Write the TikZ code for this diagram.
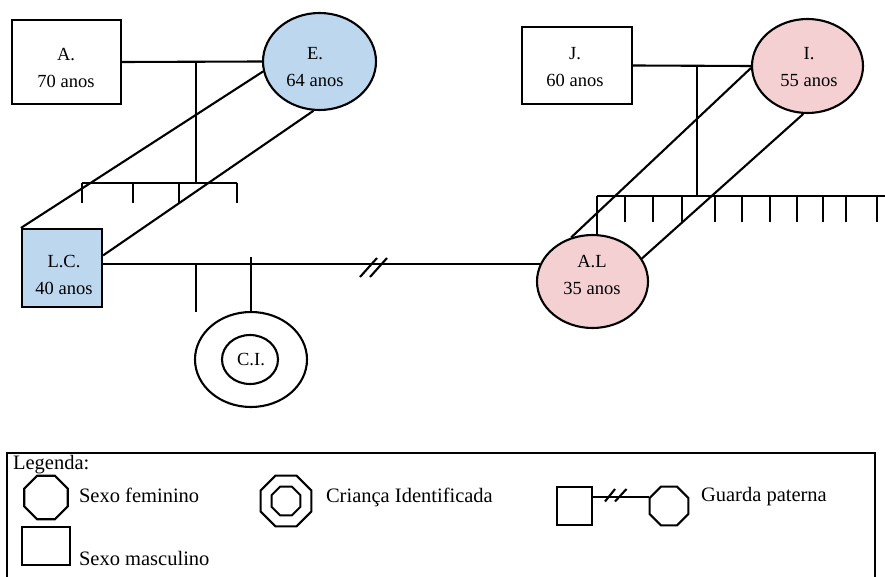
\documentclass[tikz,border=0pt]{standalone}
\usepackage{fontspec}
\setmainfont{Liberation Serif}
\usetikzlibrary{shapes.geometric, calc, positioning}
\definecolor{azulclaro}{RGB}{189,215,238}
\definecolor{rosaclaro}{RGB}{244,208,210}

\begin{document}
\begin{tikzpicture}[x=1pt, y=-1pt, line width=2.1pt,
    homem/.style={draw, rectangle, inner sep=0pt},
    mulher/.style={draw, ellipse, inner sep=0pt},
    octo/.style={draw, regular polygon, regular polygon sides=8, inner sep=0pt},
    rotulo/.style={align=center, inner sep=0pt, font=\fontsize{18.5}{27}\selectfont},
    legtxt/.style={anchor=west, inner sep=0pt, font=\fontsize{20.5}{24}\selectfont}]
                        \useasboundingbox (0,0) rectangle (885,577);
                        % avos paternos
                        \node[homem, minimum width=109pt, minimum height=84pt] (A) at (66.5,62) {};
                        \node[mulher, fill=azulclaro, minimum width=113pt, minimum height=97pt] (E) at (319.5,61.5) {};
                        % avos maternos
                        \node[homem, minimum width=110pt, minimum height=77pt] (J) at (577,65.5) {};
                        \node[mulher, fill=rosaclaro, minimum width=111pt, minimum height=94pt] (I) at (807.5,66) {};
                        % pais
                        \node[homem, fill=azulclaro, minimum width=80pt, minimum height=78pt] (LC) at (62,268) {};
                        \node[mulher, fill=rosaclaro, minimum width=111pt, minimum height=93pt] (AL) at (592.5,281.5) {};
                        % crianca
                        \node[mulher, minimum width=112pt, minimum height=95pt] (CI) at (251,359.5) {};
                        \node[mulher, minimum width=56pt, minimum height=49pt] (CIin) at (250,359.5) {};
                        \node[rotulo] (tA) at (66,67.5) {A.\\70 anos};
                        \node[rotulo] (tE) at (315,67.5) {E.\\64 anos};
                        \node[rotulo] (tJ) at (575,67.5) {J.\\60 anos};
                        \node[rotulo] (tI) at (809,67.5) {I.\\55 anos};
                        \node[rotulo] (tLC) at (64,274.5) {L.C.\\40 anos};
                        \node[rotulo] (tAL) at (592,274.5) {A.L\\35 anos};
                        \node[rotulo] (tCI) at (251,360) {C.I.};
                        \coordinate (irmE) at (196,183);
                        \coordinate (irmI) at (697,196);
                        \coordinate (corte) at (373.5,265);
                        % casamentos e filhos
                        \draw (A.east) -- (E.west);
                        \draw (irmE |- A.east) -- (irmE);
                        \draw (82,183) -- (237,183);
                        \foreach \x in {82,133,179,237}
                            \draw (\x,183) -- (\x,203);
                        \draw (J.east) -- (I.west);
                        \draw (irmI |- J.east) -- (irmI);
                        \draw (AL.85 |- irmI) -- (885,196);
                        \draw (AL.85) -- (AL.85 |- irmI);
                        \foreach \x in {625,653,682,715,742,770,797,823,846,877}
                            \draw (\x,196) -- (\x,222);
                        \draw (LC.east |- AL.162) -- (AL.162);
                        \draw
                        ($(corte)+(-13.5,12)$) -- ++(17,-19)
                        ($(corte)+(-3.5,12)$) -- ++(17,-19);
                        \draw (196,265) -- (196,312);
                        \draw (CI.north) -- ++(0,-54);
                        % ligacoes
                        \draw (E.190) -- (LC.north west);
                        \draw (E.263) -- (LC.17);
                        \draw (I.182) -- (AL.116);
                        \draw (I.265) -- (AL.25);
                        % legenda
                        \draw (7,580) -- (7,453) -- (875,453) -- (875,580);
                        \node[legtxt] (leg) at (12,465) {Legenda:};
                        \node[octo, minimum size=47pt] (Lfem) at (46,497.5) {};
                        \node[legtxt] (tfem) at (78,495) {Sexo feminino};
                        \node[homem, minimum width=48pt, minimum height=38pt] (Lmasc) at (46,546) {};
                        \node[legtxt] (tmasc) at (78,558) {Sexo masculino};
                        \node[octo, minimum size=55pt] (Lci) at (286,501) {};
                        \node[octo, minimum size=31pt] (Lciin) at (286,501) {};
                        \node[legtxt] (tci) at (325,497) {Criança Identificada};
                        \node[homem, minimum width=35pt, minimum height=38pt] (Gq) at (574.5,506) {};
                        \node[octo, minimum size=42pt] (Go) at (669,506) {};
                        \draw (Gq.27) -- (Gq.27 -| Go.west);
                        \draw
                        (605,501.5) -- ++(10,-12.5)
                        (615,501.5) -- ++(11.5,-12.5);
                        \node[legtxt] (tg) at (700,497) {Guarda paterna};
                    \end{tikzpicture}
\end{document}
